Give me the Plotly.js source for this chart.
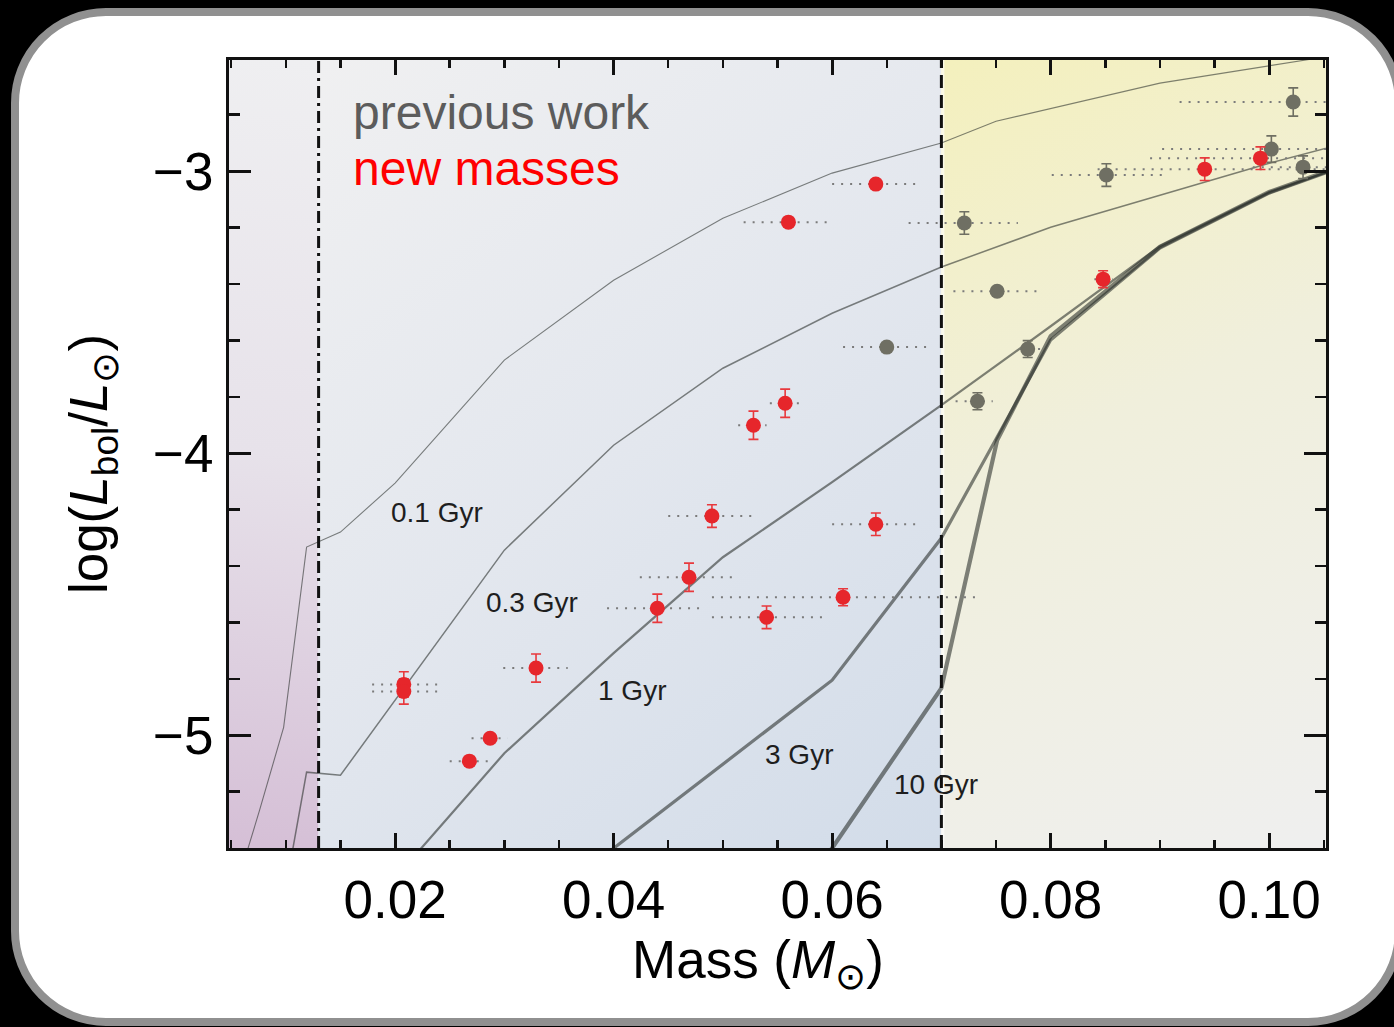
<!DOCTYPE html>
<html>
<head>
<meta charset="utf-8">
<script src="https://cdn.plot.ly/plotly-3.0.1.min.js"></script>
<style>
  html, body { margin: 0; padding: 0; background: #000; width: 1394px; height: 1027px; overflow: hidden; }
  #frame { position: absolute; left: 11px; top: 8px; width: 1392px; height: 1018px; box-sizing: border-box;
           border: 8px solid #909090; border-radius: 95px; background: #fff; }
  #chart { position: absolute; left: 0; top: 0; width: 1394px; height: 1027px; }
</style>
</head>
<body>
<div id="frame"></div>
<div id="chart"></div>
<script>
// ---------- data ----------
const xRange = [0.0048, 0.1052];
const yRange = [-5.40, -2.606];
const deuteriumLimit = 0.013;
const hydrogenLimit = 0.070;

// new masses (red)
const newMass     = [0.0208, 0.0208, 0.0329, 0.0287, 0.0268, 0.0440, 0.0469, 0.0490, 0.0528, 0.0557, 0.0540, 0.0610, 0.0640, 0.0560, 0.0640, 0.0848, 0.0941, 0.0992];
const newLogL     = [-4.820, -4.845, -4.762, -5.011, -5.092, -4.550, -4.440, -4.223, -3.901, -3.823, -4.582, -4.511, -4.252, -3.181, -3.046, -3.383, -2.993, -2.954];
const newLogLErr  = [0.045, 0.045, 0.050, 0.015, 0.015, 0.050, 0.050, 0.040, 0.050, 0.050, 0.040, 0.030, 0.040, 0.015, 0.015, 0.030, 0.040, 0.040];
const newMassLo   = [0.0179, 0.0179, 0.0299, 0.0270, 0.0250, 0.0394, 0.0424, 0.0450, 0.0514, 0.0543, 0.0490, 0.0490, 0.0600, 0.0519, 0.0600, 0.0840, 0.0843, 0.0891];
const newMassHi   = [0.0239, 0.0239, 0.0358, 0.0303, 0.0285, 0.0479, 0.0509, 0.0527, 0.0540, 0.0570, 0.0591, 0.0731, 0.0676, 0.0596, 0.0677, 0.0857, 0.1080, 0.1100];

// previous work (gray)
const prevMass    = [0.1022, 0.1002, 0.1031, 0.0851, 0.0721, 0.0751, 0.0779, 0.0733, 0.0650];
const prevLogL    = [-2.755, -2.922, -2.986, -3.014, -3.184, -3.426, -3.631, -3.816, -3.624];
const prevLogLErr = [0.050, 0.047, 0.040, 0.040, 0.040, 0.015, 0.030, 0.030, 0.015];
const prevMassLo  = [0.0918, 0.0902, 0.0985, 0.0801, 0.0670, 0.0711, 0.0772, 0.0713, 0.0610];
const prevMassHi  = [0.1080, 0.1100, 0.1080, 0.0902, 0.0770, 0.0788, 0.0793, 0.0747, 0.0687];

// isochrones
const iso01Mass = [0.0060, 0.0076, 0.0098, 0.0119, 0.0150, 0.0200, 0.0300, 0.0400, 0.0500, 0.0600, 0.0700, 0.0750, 0.0900, 0.1022, 0.1100];
const iso01LogL = [-5.47, -5.266, -4.972, -4.333, -4.280, -4.106, -3.670, -3.387, -3.167, -3.007, -2.900, -2.823, -2.688, -2.613, -2.565];
const iso03Mass = [0.0098, 0.0119, 0.0150, 0.0300, 0.0400, 0.0500, 0.0600, 0.0700, 0.0800, 0.1000, 0.1100];
const iso03LogL = [-5.585, -5.131, -5.142, -4.344, -3.972, -3.699, -3.504, -3.340, -3.199, -2.972, -2.870];
const iso1Mass  = [0.0200, 0.0300, 0.0400, 0.0500, 0.0600, 0.0700, 0.0800, 0.0900, 0.1000, 0.1100];
const iso1LogL  = [-5.507, -5.064, -4.709, -4.369, -4.103, -3.830, -3.550, -3.266, -3.074, -2.940];
const iso3Mass  = [0.0350, 0.0600, 0.0700, 0.0800, 0.0900, 0.1000, 0.1100];
const iso3LogL  = [-5.550, -4.805, -4.301, -3.599, -3.273, -3.078, -2.940];
const iso10Mass = [0.0580, 0.0700, 0.0751, 0.0800, 0.0900, 0.1000, 0.1100];
const iso10LogL = [-5.514, -4.833, -3.954, -3.585, -3.268, -3.074, -2.935];

const isoLabels    = ['0.1 Gyr', '0.3 Gyr', '1 Gyr', '3 Gyr', '10 Gyr'];
const isoLabelMass = [0.0238, 0.0325, 0.0417, 0.0570, 0.0695];
const isoLabelLogL = [-4.209, -4.528, -4.840, -5.067, -5.174];

// ---------- background ----------
function makeBackground() {
  const W = 1097, H = 788;
  const c = document.createElement('canvas');
  c.width = W; c.height = H;
  const g = c.getContext('2d');
  const px = m => (m - xRange[0]) / (xRange[1] - xRange[0]) * W;
  const a = px(deuteriumLimit), b = px(hydrogenLimit);
  let gr = g.createLinearGradient(a, 0, 0, H);
  gr.addColorStop(0, '#efeff1'); gr.addColorStop(0.5, '#e7e2ea'); gr.addColorStop(1, '#d5bfd6');
  g.fillStyle = gr; g.fillRect(0, 0, a, H);
  gr = g.createLinearGradient(a, 0, b, H);
  gr.addColorStop(0, '#f0f0f1'); gr.addColorStop(0.5, '#e3e7ee'); gr.addColorStop(1, '#d2dce9');
  g.fillStyle = gr; g.fillRect(a, 0, b - a, H);
  gr = g.createLinearGradient(b, 0, W, H);
  gr.addColorStop(0, '#f4f0bd'); gr.addColorStop(0.45, '#f0efdc'); gr.addColorStop(1, '#efefef');
  g.fillStyle = gr; g.fillRect(b, 0, W - b, H);
  g.fillStyle = 'rgba(255,255,255,0.6)';
  g.fillRect(b, 0, 3, H);
  return c.toDataURL('image/png');
}

// ---------- traces ----------
const isoColor = 'rgba(40,44,42,0.58)';
function isoTrace(x, y, w) {
  return { x: x, y: y, type: 'scatter', mode: 'lines', line: { color: isoColor, width: w }, hoverinfo: 'skip', showlegend: false };
}
function rangeTrace(lo, hi, yv) {
  const xs = [], ys = [];
  for (let i = 0; i < lo.length; i++) { xs.push(lo[i], hi[i], null); ys.push(yv[i], yv[i], null); }
  return { x: xs, y: ys, type: 'scatter', mode: 'lines', line: { color: '#7b7b7b', width: 2, dash: '2px,7px' }, hoverinfo: 'skip', showlegend: false };
}

const traces = [
  isoTrace(iso01Mass, iso01LogL, 1.1),
  isoTrace(iso03Mass, iso03LogL, 1.5),
  isoTrace(iso1Mass, iso1LogL, 2.2),
  isoTrace(iso3Mass, iso3LogL, 3.2),
  isoTrace(iso10Mass, iso10LogL, 4.2),
  rangeTrace(prevMassLo, prevMassHi, prevLogL),
  rangeTrace(newMassLo, newMassHi, newLogL),
  { x: prevMass, y: prevLogL, type: 'scatter', mode: 'markers', showlegend: false,
    marker: { color: '#6f6f63', size: 15, line: { width: 0 } },
    error_y: { type: 'data', array: prevLogLErr, color: '#6f6f63', thickness: 1.6, width: 5 } },
  { x: newMass, y: newLogL, type: 'scatter', mode: 'markers', showlegend: false,
    marker: { color: '#e6262b', size: 15, line: { width: 0 } },
    error_y: { type: 'data', array: newLogLErr, color: '#e8393d', thickness: 1.6, width: 5 } }
];

const FONT = 'Liberation Sans, Arial, Helvetica, sans-serif';

const annotations = isoLabels.map((t, i) => ({
  x: isoLabelMass[i], y: isoLabelLogL[i], xref: 'x', yref: 'y', text: t, showarrow: false,
  font: { family: FONT, size: 28, color: '#1e1e1e' }, xanchor: 'center', yanchor: 'middle'
}));
annotations.push(
  { x: 0.1112, y: 0.934, xref: 'paper', yref: 'paper', text: 'previous work', showarrow: false,
    xanchor: 'left', yanchor: 'middle', font: { family: FONT, size: 48, color: '#5c5c5c' } },
  { x: 0.1112, y: 0.862, xref: 'paper', yref: 'paper', text: 'new masses', showarrow: false,
    xanchor: 'left', yanchor: 'middle', font: { family: FONT, size: 48, color: '#ff0000' } },
  { x: 0.482, y: -0.146, xref: 'paper', yref: 'paper', text: 'Mass (<i>M</i><sub>⊙</sub>)', showarrow: false,
    xanchor: 'center', yanchor: 'middle', font: { family: FONT, size: 53, color: '#000' } },
  { x: -0.125, y: 0.487, xref: 'paper', yref: 'paper', text: 'log(<i>L</i><sub>bol</sub>/<i>L</i><sub>⊙</sub>)', showarrow: false,
    textangle: -90, xanchor: 'center', yanchor: 'middle', font: { family: FONT, size: 53, color: '#000' } }
);

const layout = {
  width: 1394, height: 1027,
  margin: { l: 229, r: 68, t: 60, b: 179, pad: 0 },
  paper_bgcolor: 'rgba(0,0,0,0)',
  plot_bgcolor: 'rgba(0,0,0,0)',
  showlegend: false,
  font: { family: FONT, color: '#000' },
  xaxis: {
    range: xRange, tick0: 0, dtick: 0.02, tickformat: '.2f',
    ticks: 'inside', ticklen: 15, tickwidth: 3, tickcolor: '#111',
    showline: true, linewidth: 3, linecolor: '#111', mirror: 'ticks',
    showgrid: false, zeroline: false, ticklabelstandoff: 3,
    tickfont: { family: FONT, size: 53, color: '#000' },
    minor: { tick0: 0, dtick: 0.005, ticks: 'inside', ticklen: 8, tickwidth: 2.5, tickcolor: '#111', showgrid: false }
  },
  yaxis: {
    range: yRange, tick0: 0, dtick: 1,
    ticks: 'inside', ticklen: 22, tickwidth: 3, tickcolor: '#111',
    showline: true, linewidth: 3, linecolor: '#111', mirror: 'ticks',
    showgrid: false, zeroline: false, ticklabelstandoff: 2,
    tickfont: { family: FONT, size: 53, color: '#000' },
    minor: { tick0: 0, dtick: 0.2, ticks: 'inside', ticklen: 11, tickwidth: 2.5, tickcolor: '#111', showgrid: false }
  },
  shapes: [
    { type: 'line', xref: 'x', yref: 'paper', x0: deuteriumLimit, x1: deuteriumLimit, y0: 0, y1: 1,
      line: { color: '#111', width: 3, dash: '12px,5px,3px,5px' } },
    { type: 'line', xref: 'x', yref: 'paper', x0: hydrogenLimit, x1: hydrogenLimit, y0: 0, y1: 1,
      line: { color: '#111', width: 3, dash: '13px,7px' } }
  ],
  images: [{
    source: makeBackground(), xref: 'paper', yref: 'paper', x: 0, y: 1, sizex: 1, sizey: 1,
    xanchor: 'left', yanchor: 'top', sizing: 'stretch', layer: 'below'
  }],
  annotations: annotations
};

Plotly.newPlot('chart', traces, layout, { displayModeBar: false, staticPlot: true });
</script>
</body>
</html>
